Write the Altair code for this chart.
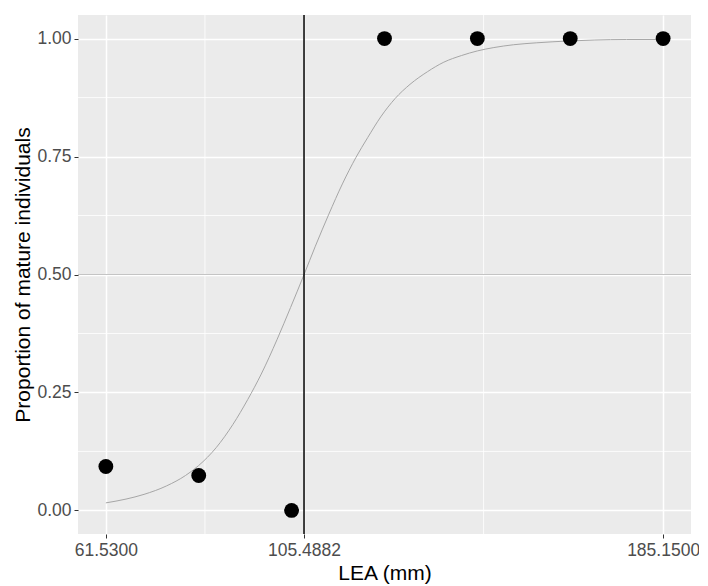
import altair as alt
import pandas as pd

# Observed proportions of mature individuals per LEA class
lea_classes = [61.53, 82.13, 102.73, 123.34, 143.94, 164.54, 185.15]
prop_mature = [0.093, 0.074, 0.0, 1.0, 1.0, 1.0, 1.0]

# Fitted logistic curve
curve_x = [61.53, 66, 70, 75, 79.2, 82.1, 86, 89.7, 93, 96, 99.5, 102.5, 105.5,
           108, 111, 114, 117, 119.6, 122.5, 125.7, 129, 132.9, 136.5, 140.4,
           144, 147.6, 152, 157, 164.4, 170, 177, 185.15]
curve_y = [0.016, 0.024, 0.034, 0.052, 0.074, 0.095, 0.133, 0.182, 0.235, 0.289,
           0.362, 0.43, 0.50, 0.56, 0.628, 0.692, 0.748, 0.79, 0.834, 0.873, 0.903,
           0.93, 0.95, 0.964, 0.974, 0.981, 0.987, 0.991, 0.995, 0.997, 0.998, 0.998]

l50 = 105.4882
x_breaks = [61.53, 105.4882, 185.15]
x_minor = [83.5091, 145.3191]
y_breaks = [0.0, 0.25, 0.5, 0.75, 1.0]
y_minor = [0.125, 0.375, 0.625, 0.875]

x_dom = [55.349, 191.331]
y_dom = [-0.05, 1.05]

pts = pd.DataFrame({"x": lea_classes, "y": prop_mature})
curve = pd.DataFrame({"x": curve_x, "y": curve_y})

xs = alt.Scale(domain=x_dom, nice=False, zero=False)
ys = alt.Scale(domain=y_dom, nice=False, zero=False)

FONT = "Liberation Sans"
x_axis = alt.Axis(values=x_breaks, format=".4f", title="LEA (mm)", grid=True,
                  gridColor="white", gridWidth=1.5, domain=False, tickColor="#333333",
                  tickSize=4, labelColor="#4D4D4D", labelFontSize=17.5, labelPadding=3,
                  titleFontSize=21, titleColor="black", titleFontWeight="normal",
                  titlePadding=4, labelFont=FONT, titleFont=FONT)
y_axis = alt.Axis(values=y_breaks, format=".2f", title="Proportion of mature individuals",
                  grid=True, gridColor="white", gridWidth=1.5, domain=False,
                  tickColor="#333333", tickSize=4, labelColor="#4D4D4D",
                  labelFontSize=17.5, labelPadding=3, titleFontSize=21,
                  titleColor="black", titleFontWeight="normal", titlePadding=3,
                  labelFont=FONT, titleFont=FONT)

base_x = alt.X("x:Q", scale=xs, axis=x_axis)
base_y = alt.Y("y:Q", scale=ys, axis=y_axis)

minor_v = alt.Chart(pd.DataFrame({"x": x_minor})).mark_rule(
    color="white", strokeWidth=0.8).encode(x=alt.X("x:Q", scale=xs, axis=x_axis))
minor_h = alt.Chart(pd.DataFrame({"y": y_minor})).mark_rule(
    color="white", strokeWidth=0.8).encode(y=alt.Y("y:Q", scale=ys, axis=y_axis))

hline = alt.Chart(pd.DataFrame({"y": [0.5]})).mark_rule(
    color="#C4C4C4", strokeWidth=1).encode(y=alt.Y("y:Q", scale=ys, axis=y_axis))

line = alt.Chart(curve).mark_line(color="#A6A6A6", strokeWidth=1,
                                  interpolate="monotone").encode(x=base_x, y=base_y)

vline = alt.Chart(pd.DataFrame({"x": [l50]})).mark_rule(
    color="black", strokeWidth=1.5).encode(x=alt.X("x:Q", scale=xs, axis=x_axis))

points = alt.Chart(pts).mark_point(filled=True, color="black", size=220,
                                   opacity=1).encode(x=base_x, y=base_y)

chart = alt.layer(minor_v, minor_h, hline, line, vline, points).properties(
    width=613, height=519,
    autosize=alt.AutoSizeParams(type="none"),
    padding={"left": 70, "top": 7, "right": 8, "bottom": 50},
).configure_view(fill="#EBEBEB", stroke=None)

chart.save("out.html", embed_options={"renderer": "svg", "actions": False})
